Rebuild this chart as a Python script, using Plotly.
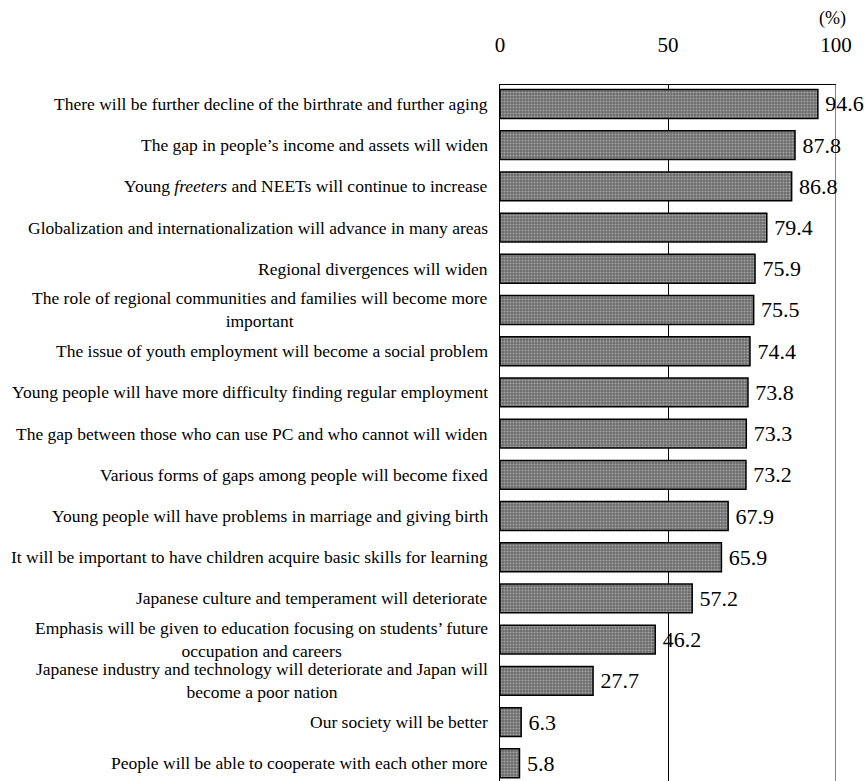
import plotly.graph_objects as go

categories = [
    "There will be further decline of the birthrate and further aging",
    "The gap in people\u2019s income and assets will widen",
    "Young <i>freeters</i> and NEETs will continue to increase",
    "Globalization and internationalization will advance in many areas",
    "Regional divergences will widen",
    "The role of regional communities and families will become more<br>important",
    "The issue of youth employment will become a social problem",
    "Young people will have more difficulty finding regular employment",
    "The gap between those who can use PC and who cannot will widen",
    "Various forms of gaps among people will become fixed",
    "Young people will have problems in marriage and giving birth",
    "It will be important to have children acquire basic skills for learning",
    "Japanese culture and temperament will deteriorate",
    "Emphasis will be given to education focusing on students\u2019 future<br>occupation and careers",
    "Japanese industry and technology will deteriorate and Japan will<br>become a poor nation",
    "Our society will be better",
    "People will be able to cooperate with each other more",
]
values = [94.6, 87.8, 86.8, 79.4, 75.9, 75.5, 74.4, 73.8, 73.3, 73.2,
          67.9, 65.9, 57.2, 46.2, 27.7, 6.3, 5.8]
x_ticks = [0, 50, 100]

FONT = "Liberation Serif"
ypos = list(range(len(categories)))

fig = go.Figure()
fig.add_trace(go.Bar(
    x=values, y=ypos, orientation="h", width=0.7,
    marker=dict(
        color="#8a8a8a",
        line=dict(color="#000000", width=1.5),
        pattern=dict(shape=".", fgcolor="#e0e0e0", bgcolor="#6a6a6a", size=3, solidity=0.4),
    ),
    text=[f"\u2009{v:.1f}" for v in values], textposition="outside",
    textfont=dict(family=FONT, size=22, color="#000"),
    cliponaxis=False, hoverinfo="skip",
))

for yi, lab in zip(ypos, categories):
    fig.add_annotation(
        x=-0.031, xref="paper", y=yi, yref="y", text=lab, showarrow=False,
        xanchor="right", yanchor="middle", align="center",
        font=dict(family=FONT, size=17.5, color="#000"),
    )

fig.add_annotation(
    x=1.035, xref="paper", yref="paper", y=1 + (85 - 18) / 696,
    text="(%)", showarrow=False, font=dict(family=FONT, size=18, color="#000"),
    xanchor="right", yanchor="middle",
)

fig.add_vline(x=x_ticks[-1], line=dict(color="#000", width=1), layer="below")

fig.update_layout(
    width=867, height=781, autosize=False,
    margin=dict(l=500, r=31, t=85, b=0, pad=0),
    paper_bgcolor="white", plot_bgcolor="white",
    showlegend=False,
    font=dict(family=FONT, color="#000"),
    xaxis=dict(
        side="top", range=[0, 100], tickvals=x_ticks, ticktext=[str(t) for t in x_ticks],
        showgrid=True, gridcolor="#000", gridwidth=1,
        showline=True, linecolor="#000", linewidth=1, mirror=False,
        ticks="", zeroline=False,
        tickfont=dict(family=FONT, size=21, color="#000"),
        ticklabelstandoff=24,
    ),
    yaxis=dict(
        range=[16.43, -0.46], showticklabels=False, showgrid=False, zeroline=False,
        showline=True, linecolor="#000", linewidth=1, ticks="",
    ),
)

fig.write_html("out.html")
